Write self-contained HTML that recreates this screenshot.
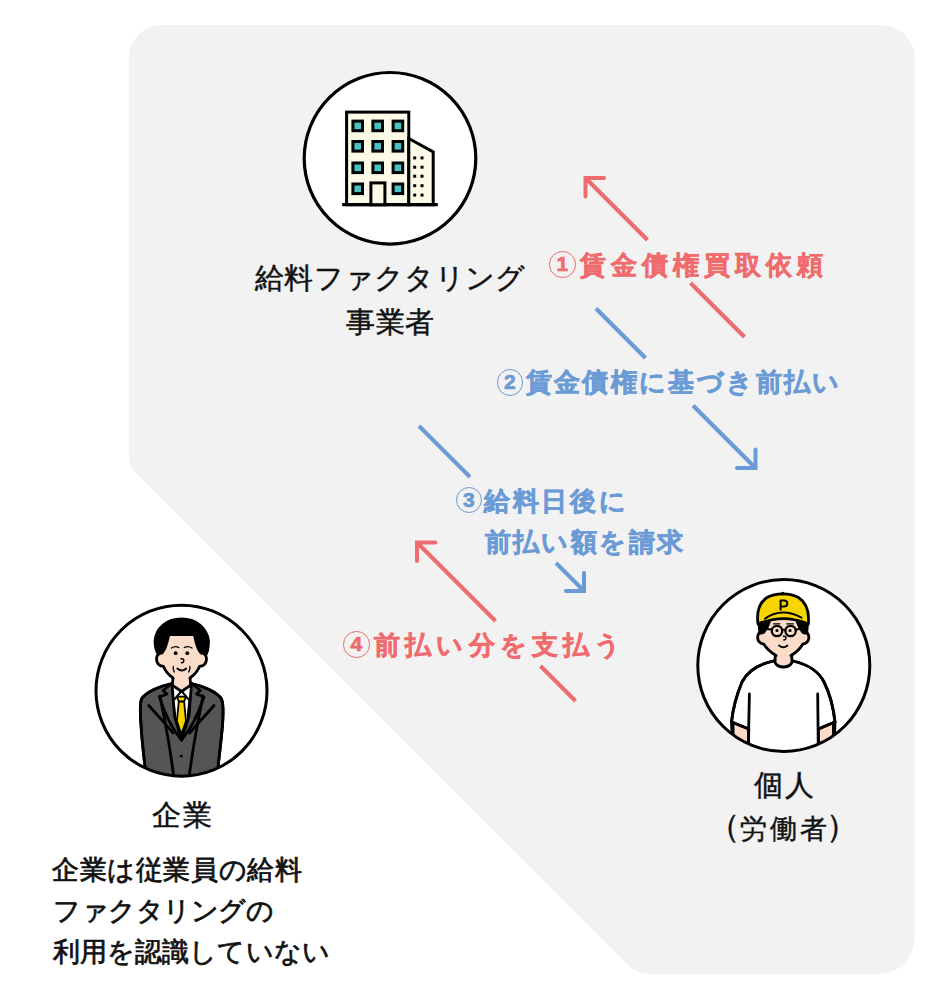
<!DOCTYPE html>
<html lang="ja">
<head>
<meta charset="utf-8">
<style>
html,body{margin:0;padding:0;background:#fff;}
body{width:951px;height:1000px;position:relative;overflow:hidden;font-family:"Liberation Sans",sans-serif;}
svg.bg{position:absolute;left:0;top:0;}
.t{position:absolute;white-space:nowrap;line-height:1;color:#111;-webkit-text-stroke:0.45px #111;}
.m{-webkit-text-stroke:0.75px #111;}
.red{color:#f06b6e;font-weight:700;-webkit-text-stroke:0.6px #f06b6e;}
.blue{color:#6b9bd6;font-weight:700;-webkit-text-stroke:0.6px #6b9bd6;}
.cn{position:absolute;box-sizing:border-box;width:26.5px;height:26.5px;border-radius:50%;border:1.7px solid currentColor;font-family:"Liberation Sans",sans-serif;font-weight:700;font-size:21px;line-height:23.5px;text-align:center;-webkit-text-stroke:0.7px currentColor;}
</style>
</head>
<body>
<svg class="bg" width="951" height="1000" viewBox="0 0 951 1000">
  <!-- gray panel -->
  <path fill="#f2f2f2" d="M162,25 H881 A34,34 0 0 1 915,59 V937 A37,37 0 0 1 878,974 H648.6 A28,28 0 0 1 628.8,965.8 L137.2,474.2 A28,28 0 0 1 129,454.4 V58 A33,33 0 0 1 162,25 Z"/>

  <!-- arrows -->
  <g stroke-width="4" fill="none">
    <!-- arrow 1 red up-left -->
    <g stroke="#f06b6e">
      <path d="M604,178 H585.5 V196.5" stroke-linecap="round" stroke-linejoin="miter"/>
      <path d="M585.5,178 L647.5,240 M690.5,283 L744.5,337"/>
    </g>
    <!-- arrow 2 blue down-right -->
    <g stroke="#6b9bd6">
      <path d="M737,468 H755.5 V449.5" stroke-linecap="round"/>
      <path d="M596,308.5 L645.5,358 M693,405.5 L755.5,468"/>
    </g>
    <!-- arrow 3 blue -->
    <g stroke="#6b9bd6">
      <path d="M566,591 H584 V573" stroke-linecap="round"/>
      <path d="M419,426 L470,477 M556,563 L584,591"/>
    </g>
    <!-- arrow 4 red -->
    <g stroke="#f06b6e">
      <path d="M435.5,542.5 H417 V561" stroke-linecap="round"/>
      <path d="M417,542.5 L495.5,621 M540.5,666 L575.5,701"/>
    </g>
  </g>

  <!-- building circle -->
  <circle cx="390" cy="158.3" r="85.8" fill="#fff" stroke="#000" stroke-width="3.2"/>
  <g id="building" stroke="#000" stroke-width="3" fill="#fbfbe8">
    <rect x="346.6" y="112.1" width="62.2" height="92.6"/>
    <path d="M408.8,138.5 L433.2,152 V204.7 H408.8 Z"/>
    <line x1="342.2" y1="204.7" x2="437.8" y2="204.7" stroke-width="3.2"/>
    <rect x="370.9" y="182.9" width="14" height="21.8" fill="#fbfbe8"/>
  </g>
  <g fill="#48c2c2" stroke="#000" stroke-width="3">
    <rect x="352.9" y="121.1" width="9.6" height="9.6"/>
    <rect x="372.9" y="121.1" width="9.6" height="9.6"/>
    <rect x="393.1" y="121.1" width="9.6" height="9.6"/>
    <rect x="352.9" y="141.5" width="9.6" height="9.6"/>
    <rect x="372.9" y="141.5" width="9.6" height="9.6"/>
    <rect x="393.1" y="141.5" width="9.6" height="9.6"/>
    <rect x="352.9" y="163" width="9.6" height="9.6"/>
    <rect x="372.9" y="163" width="9.6" height="9.6"/>
    <rect x="393.1" y="163" width="9.6" height="9.6"/>
    <rect x="352.9" y="184" width="9.6" height="9.6"/>
    <rect x="393.1" y="184" width="9.6" height="9.6"/>
  </g>
  <g fill="#000">
    <rect x="413.2" y="156.4" width="3" height="3"/><rect x="420.5" y="156.4" width="3" height="3"/>
    <rect x="413.2" y="165.7" width="3" height="3"/><rect x="420.5" y="165.7" width="3" height="3"/>
    <rect x="413.2" y="174.7" width="3" height="3"/><rect x="420.5" y="174.7" width="3" height="3"/>
    <rect x="413.2" y="184.2" width="3" height="3"/><rect x="420.5" y="184.2" width="3" height="3"/>
    <rect x="413.2" y="193.6" width="3" height="3"/><rect x="420.5" y="193.6" width="3" height="3"/>
  </g>

  <!-- businessman circle -->
  <defs>
    <clipPath id="c1"><circle cx="181.5" cy="690.7" r="85.5"/></clipPath>
    <clipPath id="c2"><circle cx="783.8" cy="665.5" r="86"/></clipPath>
  </defs>
  <circle cx="181.5" cy="690.7" r="85.5" fill="#fff"/>
  <g clip-path="url(#c1)" stroke="#000" stroke-width="2.8" stroke-linejoin="round" stroke-linecap="round">
    <!-- suit body -->
    <path fill="#555" d="M172,683.5 C160,686 146,692 141.5,699 C139.5,704 140,712 141,725 C142,745 145,762 147,790 L216,790 C218,762 221,745 222.5,725 C223.5,712 223.5,704 221.5,699 C217,692 203,686 191.5,683.5 Z"/>
    <!-- shirt -->
    <path fill="#fff" d="M172,683.5 L191.5,683.5 L189,716 L181.5,740 L174.5,716 Z"/>
    <!-- tie -->
    <path fill="#fff" stroke-width="2" d="M181.5,691 L173.6,700.4 L175.3,716 M181.5,691 L189.4,700.4 L187.7,716"/>
    <path fill="#f5d200" stroke-width="1.8" d="M176.9,696.6 L186,696.6 L184.1,701.5 L186,721 L181.3,734.3 L176.9,721 L178.8,701.5 Z M178.6,701.5 L184.1,701.5"/>
    <!-- lapels -->
    <path fill="none" d="M172,683.5 L163,690.5 L167,694 L159.5,697 C165,715 173,730 181.5,740"/>
    <path fill="none" d="M191.5,683.5 L200.5,690.5 L196.5,694 L204,697 C198,715 190,730 181.5,740"/>
    <path fill="none" d="M148.8,705.5 C158,716 166,724 173,733"/>
    <path fill="none" d="M214,705.5 C205,716 197,724 189.6,733"/>
    <path fill="none" d="M159.8,696 C166,725 171,750 175.3,790"/>
    <path fill="none" d="M203,696 C197,725 192,750 187.5,790"/>
    <path fill="none" d="M172,683.5 C160,686 146,692 141.5,699 C139.5,704 140,712 141,725 C142,745 145,762 147,790"/>
    <path fill="none" d="M191.5,683.5 C203,686 217,692 221.5,699 C223.5,704 223.5,712 222.5,725 C221,745 218,762 216,790"/>
    <circle cx="181.3" cy="756.2" r="1.4" fill="#000" stroke="none"/>
    <!-- neck -->
    <path fill="#fadcc9" stroke="none" d="M172.5,670 L190.5,670 L191,685 L181.5,691.5 L172,685 Z"/>
    <path fill="none" d="M173,677.5 L172.3,685.5 M190,677.5 L190.7,685.5 M172.3,685.2 L181.5,691.5 L190.7,685.2"/>
    <!-- hair back -->
    <path fill="#000" d="M181.5,619 C167,619 156,628 155,641 C155,648 157,653 159.5,656 L205,656 C207.5,653 208.5,648 208.5,641 C207,628 196,619 181.5,619 Z"/>
    <!-- face -->
    <path fill="#fadcc9" stroke="none" d="M168.5,636 L194.7,636 C196,643 198,650 201,653 C204,653 206.5,655 206.5,659 C206.5,664 203,666 199.5,666.5 Q197,673 190,678 L173,678 Q166,673 163.5,666.5 C160,666 156.5,664 156.5,659 C156.5,655 159,653 162,653 C165,650 167,643 168.5,636 Z"/>
    <path fill="none" d="M173,678 Q166,673 163.5,666.5 C160,666 156.5,664 156.5,659 C156.5,655 159,653 162,653 C165,650 167,643 168.5,636 M190,678 Q197,673 199.5,666.5 C203,666 206.5,664 206.5,659 C206.5,655 204,653 201,653 C198,650 196,643 194.7,636"/>
    <path fill="none" stroke-width="1.4" d="M171.5,648 Q175,645.5 178.8,647.5 M184.3,647.5 Q188,645.5 192,648"/>
    <circle cx="175.7" cy="653.2" r="1.9" fill="#000" stroke="none"/>
    <circle cx="187.3" cy="653.2" r="1.9" fill="#000" stroke="none"/>
    <path fill="none" stroke-width="1.5" d="M181,658.8 Q184,658.5 183.8,660.8 Q183.5,663 181.5,662.8"/>
    <path fill="none" stroke-width="1.7" d="M177.3,668.5 Q181.8,672.5 186.3,668.5"/>
    <path fill="none" stroke-width="1.3" d="M173.3,666.5 Q172.5,669.5 174.3,672 M189.8,666.5 Q190.5,669.5 188.7,672"/>
  </g>
  <circle cx="181.5" cy="690.7" r="85.5" fill="none" stroke="#000" stroke-width="3"/>

  <!-- worker circle -->
  <circle cx="783.8" cy="665.5" r="86" fill="#fff"/>
  <g clip-path="url(#c2)" stroke="#000" stroke-width="2.8" stroke-linejoin="round" stroke-linecap="round">
    <!-- tshirt -->
    <path fill="#fff" d="M773.3,661 C760,664 748,670 742,682 C737,694 733,708 731.5,722 L748.7,729 L748,790 L818.5,790 L818.4,729 L835,722 C833.5,708 830,694 824,682 C818,670 806,664 793.1,661 Z"/>
    <path fill="#fadcc9" d="M731.5,722 L748.7,729 L748.5,760 L733,760 Z"/>
    <path fill="#fadcc9" d="M835,722 L818.4,729 L818.5,760 L834,760 Z"/>
    <path fill="none" d="M773.3,661 C760,664 748,670 742,682 C737,694 733,708 731.5,722 L748.7,729"/>
    <path fill="none" d="M793.1,661 C806,664 818,670 824,682 C830,694 833.5,708 835,722 L818.4,729"/>
    <path fill="none" d="M733,722.5 L733.5,760 M833.5,722.5 L833,760"/>
    <path fill="none" d="M749.4,694 L748,760 M817.7,694 L818.4,760"/>
    <!-- neck -->
    <path fill="#fadcc9" d="M775.5,650 L775,662.5 C777,666 780,667 783.3,667 C786.5,667 790,666 792,662.5 L791.5,650 Z"/>
    <!-- head -->
    <path fill="#fadcc9" stroke="none" d="M762,618 L761,632 C757,633 756.5,640 760,642.5 C761,643.5 762.5,644 763.5,643.8 Q768,651 776,655.5 L791,655.5 Q799,651 803,643.8 C804,644 805.5,643.5 806.5,642.5 C810,640 809.5,633 805.5,632 L805,618 Z"/>
    <path fill="none" d="M776,655.5 Q768,651 763.5,643.8 C762.5,644 761,643.5 760,642.5 C756.5,640 757,633 761,632 M791,655.5 Q799,651 803,643.8 C804,644 805.5,643.5 806.5,642.5 C810,640 809.5,633 805.5,632"/>
    <path fill="#000" stroke="none" d="M757.5,621 L758.5,634 C761,635 763.5,634.5 765,633 L768.5,627.5 L771,621.5 Z M809.1,621 L808.1,634 C805.6,635 803.1,634.5 801.6,633 L798.1,627.5 L795.6,621.5 Z"/>

    <!-- cap -->
    <path fill="#f7d600" d="M758,624 C756.5,612 758.5,603 767,597.5 C772,594.5 777.5,593.8 782.8,593.8 C788,593.8 793.5,594.5 798.5,597.5 C807,603 809.5,612 808.3,624 C800,620.5 792,618.6 783.3,618.6 C774.5,618.6 766.5,620.5 758,624 Z"/>
    <path fill="none" stroke-width="2" d="M765,618.6 C771,614.5 777,612.6 783.3,612.6 C789.5,612.6 795.5,614.5 801.5,617.7"/>
    <circle cx="782.8" cy="593.6" r="1.8" fill="#000" stroke="none"/>
    <path fill="none" stroke-width="2" d="M780.6,609.8 L780.6,600.6 L784,600.6 C786.5,600.6 787.3,602.2 787.3,603.6 C787.3,605.2 786.3,606.6 784,606.6 L780.6,606.6"/>
    <!-- glasses -->
    <circle cx="777" cy="631" r="5.2" fill="none" stroke-width="2.3"/>
    <circle cx="790.6" cy="631" r="5.2" fill="none" stroke-width="2.3"/>
    <path fill="none" stroke-width="1.8" d="M782.2,630.3 Q783.8,629 785.4,630.3 M771.8,629.5 L766.5,629 M795.8,629.5 L800.5,629"/>
    <path fill="none" stroke-width="1.3" d="M773.5,623.9 L779.8,623.9 M786.8,623.9 L793.3,623.9"/>
    <circle cx="777" cy="630.5" r="1.6" fill="#000" stroke="none"/>
    <circle cx="790" cy="630.5" r="1.6" fill="#000" stroke="none"/>
    <path fill="none" stroke-width="1.5" d="M783.5,636.3 Q786.3,636 786,638.2 Q785.5,640.3 783.8,640"/>
    <path fill="none" stroke-width="1.7" d="M779,645.5 Q783.3,649 787.5,645.5"/>
  </g>
  <circle cx="783.8" cy="665.5" r="86" fill="none" stroke="#000" stroke-width="3"/>
</svg>

<div class="t" id="t1" style="left:255px;top:263px;font-size:29.3px;letter-spacing:0.3px;">給料ファクタリング</div>
<div class="t" id="t2" style="left:346px;top:307px;font-size:29.3px;letter-spacing:0.5px;">事業者</div>
<div class="cn red" id="c1" style="left:549.1px;top:251px;">1</div>
<div class="t red" id="t3" style="left:580px;top:251.5px;font-size:26px;letter-spacing:5px;">賃金債権買取依頼</div>
<div class="cn blue" id="c2" style="left:496.7px;top:369px;">2</div>
<div class="t blue" id="t4" style="left:525.5px;top:369px;font-size:26px;letter-spacing:2.4px;">賃金債権に基づき前払い</div>
<div class="cn blue" id="c3" style="left:455.7px;top:486.7px;">3</div>
<div class="t blue" id="t5" style="left:484.3px;top:488px;font-size:26px;letter-spacing:2.6px;">給料日後に</div>
<div class="t blue" id="t6" style="left:484.7px;top:528.5px;font-size:26px;letter-spacing:2.4px;">前払い額を請求</div>
<div class="cn red" id="c4" style="left:343px;top:631.4px;">4</div>
<div class="t red" id="t7" style="left:374px;top:632px;font-size:26px;letter-spacing:5.2px;">前払い分を支払う</div>
<div class="t" id="t8" style="left:152.2px;top:801px;font-size:29px;letter-spacing:1.6px;">企業</div>
<div class="t m" id="t9" style="left:52.1px;top:856.5px;font-size:27px;letter-spacing:0.6px;">企業は従業員の給料</div>
<div class="t m" id="t10" style="left:53px;top:897.5px;font-size:27px;letter-spacing:-0.5px;">ファクタリングの</div>
<div class="t m" id="t11" style="left:52.6px;top:939px;font-size:27px;letter-spacing:0.15px;">利用を認識していない</div>
<div class="t" id="t12" style="left:754px;top:770.5px;font-size:29px;letter-spacing:2px;">個人</div>
<div class="t" id="t13a" style="left:708px;top:811px;font-size:31.5px;">（</div>
<div class="t" id="t13b" style="left:740px;top:816px;font-size:27px;letter-spacing:3px;">労働者</div>
<div class="t" id="t13c" style="left:826px;top:811px;font-size:31.5px;">）</div>
</body>
</html>
